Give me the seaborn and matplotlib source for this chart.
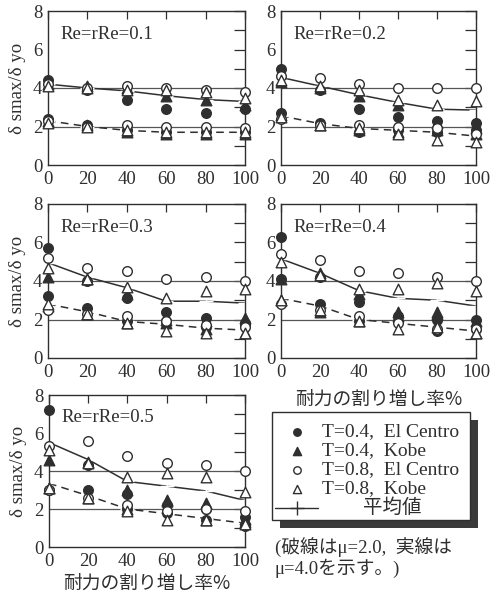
import matplotlib
matplotlib.use("Agg")
import matplotlib.pyplot as plt
from matplotlib.patches import Rectangle
import seaborn as sns

# Strength increase ratio (%) on the x axis
x_pct = [0, 20, 40, 60, 80, 100]
re_labels = ["Re=rRe=0.1", "Re=rRe=0.2", "Re=rRe=0.3", "Re=rRe=0.4", "Re=rRe=0.5"]
series_labels = ["T=0.4,  El Centro", "T=0.4,  Kobe", "T=0.8,  El Centro", "T=0.8,  Kobe"]
mean_label = "平均値"
x_label = "耐力の割り増し率%"
y_label = "δ smax/δ yo"
note_lines = ["(破線はμ=2.0,  実線は", "μ=4.0を示す。)"]

# Ductility factor mu = 4.0 (solid mean line); one row per Re value
t04_elcentro_mu4 = [
    [4.4, 3.9, 3.4, 2.9, 2.7, 2.9],
    [5.0, 3.9, 2.9, 2.5, 2.3, 2.2],
    [5.7, 4.0, 3.1, 2.4, 2.1, 1.8],
    [6.3, 4.2, 2.9, 2.2, 2.0, 2.0],
    [7.2, 4.3, 2.8, 2.2, 2.0, 1.6],
]
t04_kobe_mu4 = [
    [4.2, 4.1, 4.0, 3.6, 3.4, 3.1],
    [4.3, 4.0, 3.6, 3.1, 2.2, 1.9],
    [4.2, 4.1, 3.3, 2.0, 1.9, 2.1],
    [4.1, 4.4, 3.3, 2.4, 2.4, 1.9],
    [4.6, 4.5, 3.0, 2.5, 2.3, 1.5],
]
t08_elcentro_mu4 = [
    [4.2, 4.0, 4.1, 4.0, 3.9, 3.8],
    [4.6, 4.5, 4.2, 4.0, 4.0, 4.0],
    [5.2, 4.7, 4.5, 4.1, 4.2, 4.0],
    [5.4, 5.1, 4.5, 4.4, 4.2, 4.0],
    [5.3, 5.6, 4.8, 4.4, 4.3, 4.0],
]
t08_kobe_mu4 = [
    [4.1, 4.0, 3.9, 3.9, 3.8, 3.5],
    [4.4, 4.1, 3.9, 3.4, 3.1, 3.3],
    [4.7, 4.1, 3.7, 3.1, 3.5, 3.6],
    [5.0, 4.3, 3.6, 3.6, 3.9, 3.5],
    [5.1, 4.4, 3.7, 3.9, 3.7, 2.9],
]
mean_mu4 = [
    [4.2, 4.0, 3.85, 3.6, 3.4, 3.3],
    [4.55, 4.1, 3.65, 3.25, 2.9, 2.85],
    [4.95, 4.2, 3.65, 2.95, 2.95, 2.85],
    [5.15, 4.4, 3.5, 3.1, 3.0, 2.7],
    [5.5, 4.6, 3.45, 3.2, 2.95, 2.45],
]

# Ductility factor mu = 2.0 (dashed mean line)
t04_elcentro_mu2 = [
    [2.4, 2.1, 1.8, 1.7, 1.7, 1.7],
    [2.7, 2.2, 1.7, 1.8, 1.7, 1.8],
    [3.2, 2.6, 1.9, 1.9, 1.6, 1.7],
    [4.1, 2.8, 1.9, 1.9, 1.4, 1.5],
    [3.0, 3.0, 2.0, 1.8, 1.4, 1.1],
]
t04_kobe_mu2 = [
    [2.3, 2.1, 1.7, 1.6, 1.6, 1.6],
    [2.6, 2.1, 1.8, 1.7, 1.8, 1.6],
    [2.7, 2.3, 1.8, 1.8, 1.5, 1.3],
    [3.0, 2.4, 1.9, 2.2, 2.3, 1.3],
    [3.1, 2.6, 2.0, 2.4, 1.4, 1.3],
]
t08_elcentro_mu2 = [
    [2.3, 2.0, 2.1, 2.0, 2.0, 1.9],
    [2.4, 2.1, 2.1, 2.0, 1.9, 1.6],
    [2.5, 2.3, 2.2, 1.9, 1.7, 1.6],
    [2.8, 2.5, 2.2, 1.8, 1.5, 1.5],
    [3.0, 2.6, 2.2, 1.9, 2.0, 1.9],
]
t08_kobe_mu2 = [
    [2.2, 2.0, 1.8, 1.7, 1.7, 1.7],
    [2.5, 2.1, 1.9, 1.6, 1.3, 1.2],
    [2.8, 2.3, 1.8, 1.4, 1.3, 1.3],
    [3.0, 2.5, 1.9, 1.5, 1.6, 1.3],
    [3.1, 2.6, 1.9, 1.4, 1.4, 1.2],
]
mean_mu2 = [
    [2.3, 2.0, 1.8, 1.7, 1.7, 1.7],
    [2.55, 2.15, 1.9, 1.8, 1.7, 1.5],
    [2.8, 2.4, 1.9, 1.75, 1.55, 1.45],
    [3.1, 2.7, 2.0, 1.8, 1.6, 1.4],
    [3.35, 2.7, 2.0, 1.75, 1.5, 1.25],
]

ink = "#2f2f2f"
ref_grey = "#555555"

sns.set_style("white")
plt.rcParams["font.family"] = ["Liberation Serif", "Noto Sans CJK JP"]
plt.rcParams["axes.edgecolor"] = ink
plt.rcParams["axes.linewidth"] = 1.0
plt.rcParams["text.color"] = ink

fig = plt.figure(figsize=(4.99, 5.97), dpi=100)
W, H = 499.0, 597.0


def rect(left, top, right, bottom):
    return [left / W, 1 - bottom / H, (right - left) / W, (bottom - top) / H]


panel_boxes = [
    rect(48, 11, 245, 165),
    rect(281, 11, 476, 165),
    rect(48, 204, 245, 358),
    rect(281, 204, 476, 358),
    rect(49, 395, 245, 547),
]

# marker, filled?, size
styles = [("o", True, 48), ("^", True, 58), ("o", False, 48), ("^", False, 58)]
groups = [
    ([t04_elcentro_mu4, t04_kobe_mu4, t08_elcentro_mu4, t08_kobe_mu4], mean_mu4, "-"),
    ([t04_elcentro_mu2, t04_kobe_mu2, t08_elcentro_mu2, t08_kobe_mu2], mean_mu2, (0, (5, 3.5))),
]

for i, box in enumerate(panel_boxes):
    ax = fig.add_axes(box)
    ax.axhline(2, color=ref_grey, lw=0.9, zorder=1)
    ax.axhline(4, color=ref_grey, lw=0.9, zorder=1)
    for series, mean, ls in groups:
        sns.lineplot(x=x_pct, y=mean[i], ax=ax, color=ink, lw=1.1, linestyle=ls,
                     marker="+", markersize=10, markeredgewidth=1.0,
                     clip_on=False, zorder=2)
        for (mk, filled, size), vals in zip(styles, series):
            sns.scatterplot(x=x_pct, y=vals[i], ax=ax, marker=mk, s=size,
                            color=ink if filled else "white", edgecolor=ink,
                            linewidth=1.0, clip_on=False, zorder=3, legend=False)
    ax.set_xlim(0, 100)
    ax.set_ylim(0, 8)
    ax.set_xticks(x_pct)
    ax.set_xticklabels([str(v) for v in x_pct])
    ax.set_yticks(range(9))
    ax.set_yticklabels([str(v) if v % 2 == 0 else "" for v in range(9)])
    ax.tick_params(direction="in", top=True, right=True, width=0.9, color=ink,
                   labelsize=13.5, labelcolor=ink)
    ax.tick_params(axis="x", length=6, pad=4)
    ax.tick_params(axis="y", length=8, pad=4)
    ax.text(0.065, 0.85, re_labels[i], transform=ax.transAxes, fontsize=13.5,
            va="center", ha="left", color=ink)
    if i in (0, 2, 4):
        ax.set_ylabel(y_label, fontsize=13.5, color=ink, labelpad=5)
    if i in (3, 4):
        ax.set_xlabel(x_label, fontsize=13.5, color=ink, labelpad=6 if i == 3 else 2,
                      family=["Noto Sans CJK JP"])

# Legend box with a solid drop shadow, rows laid out explicitly
lx0, ly0, lx1, ly1 = 272, 412, 470, 520
lax = fig.add_axes(rect(lx0, ly0, lx1, ly1))
lax.set_xlim(lx0, lx1)
lax.set_ylim(ly1, ly0)
lax.set_axis_off()
lax.add_patch(Rectangle((lx0 + 8, ly0 + 8), lx1 - lx0, ly1 - ly0, facecolor="#3a3a3a",
                        edgecolor="none", clip_on=False, zorder=1))
lax.add_patch(Rectangle((lx0, ly0), lx1 - lx0, ly1 - ly0, facecolor="white",
                        edgecolor=ink, lw=1.0, clip_on=False, zorder=2))
row_y = [432, 451, 470, 489, 508]
for (mk, filled, size), label, yy in zip(styles, series_labels, row_y):
    lax.scatter([297], [yy], marker=mk, s=size * 0.6, color=ink if filled else "white",
                edgecolor=ink, linewidth=1.0, zorder=3)
    lax.text(322, yy, label, fontsize=14, va="center", ha="left", color=ink, zorder=3)
lax.plot([275, 318], [row_y[4], row_y[4]], color=ink, lw=1.0, zorder=3)
lax.plot([297], [row_y[4]], marker="+", markersize=10, markeredgewidth=1.0, color=ink, zorder=3)
lax.text(363, row_y[4], mean_label, fontsize=14, va="center", ha="left", color=ink, zorder=3)

fig.text(275 / W, 1 - 548 / H, note_lines[0], fontsize=13.5, va="center", ha="left", color=ink)
fig.text(275 / W, 1 - 568 / H, note_lines[1], fontsize=13.5, va="center", ha="left", color=ink)

fig.savefig("out.png", dpi=100)
